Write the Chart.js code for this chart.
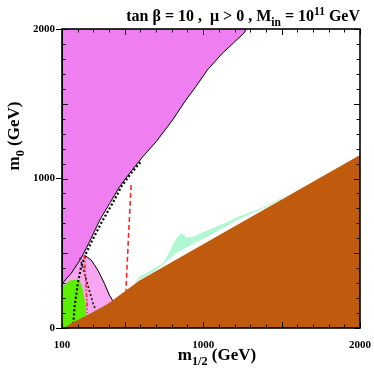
<!DOCTYPE html>
<html>
<head>
<meta charset="utf-8">
<script src="https://cdn.jsdelivr.net/npm/chart.js@4/dist/chart.umd.min.js"></script>
<style>
  html, body { margin: 0; padding: 0; background: #fff; }
  #wrap { width: 374px; height: 382px; }
</style>
</head>
<body>
<div id="wrap"><canvas id="myChart" width="374" height="382"></canvas></div>
<script>
// m_1/2 (x) and m_0 (y) in GeV
const xTickLabels = [100, 1000, 2000];
const yTickLabels = [0, 1000, 2000];

// region boundaries
const violetX = [100, 100, 106, 138, 159, 201, 233, 277, 341, 404, 467, 531, 615, 700, 805, 890, 953, 1027, 1122, 1259, 1275];
const violetY = [2000, 250, 299, 343, 366, 433, 488, 580, 722, 834, 945, 1035, 1146, 1246, 1391, 1525, 1614, 1726, 1837, 1971, 2000];

const pinkX = [100, 100, 233, 243, 286, 328, 370, 402, 430, 430];
const pinkY = [0, 400, 488, 488, 455, 388, 299, 221, 170, 0];

const greenX = [100, 100, 117, 150, 201, 222, 233, 245, 254, 258, 262];
const greenY = [0, 270, 290, 318, 325, 299, 254, 190, 120, 50, 0];

const brownX = [117, 159, 222, 286, 391, 594, 2000, 2000];
const brownY = [0, 31, 65, 100, 160, 318, 1157, 0];

const mintX = [560, 594, 680, 740, 780, 812, 835, 858, 880, 890, 931, 1037, 1164, 1227, 1396, 1491, 1545,
               1491, 1396, 1227, 1037, 931, 826, 741, 680, 594, 560];
const mintY = [295, 343, 395, 430, 500, 568, 608, 628, 625, 605, 608, 658, 714, 745, 812, 865, 890,
               858, 805, 728, 615, 560, 500, 420, 375, 322, 295];

// contours
const edgeX = [243, 286, 328, 370, 402, 430];
const edgeY = [488, 455, 388, 299, 221, 170];

const dot1X = [170, 180, 201, 222, 254, 290, 355, 420, 478, 541, 600];
const dot1Y = [0, 143, 299, 410, 500, 580, 712, 830, 945, 1035, 1110];

const dot2X = [215, 240, 267, 298, 315];
const dot2Y = [470, 380, 276, 165, 120];

const redDashDotX = [243, 252, 262];
const redDashDotY = [488, 300, 100];

const redDashX = [541, 528, 515, 508];
const redDashY = [957, 700, 420, 250];

const pts = (xs, ys) => xs.map((x, i) => ({x: x, y: ys[i]}));
const SERIF = '"Liberation Serif", "DejaVu Serif", serif';

const area = (xs, ys, color, order, border) => ({
  data: pts(xs, ys),
  showLine: true,
  fill: 'shape',
  backgroundColor: color,
  borderColor: border || 'rgba(0,0,0,0)',
  borderWidth: border ? 1 : 0,
  pointRadius: 0,
  tension: 0,
  order: order,
});

const curve = (xs, ys, color, width, dash, order) => ({
  data: pts(xs, ys),
  showLine: true,
  fill: false,
  borderColor: color,
  borderWidth: width,
  borderDash: dash,
  pointRadius: 0,
  tension: 0,
  order: order,
});

// draws the frame and inward ticks of every side
const frameTicks = {
  id: 'frameTicks',
  afterDatasetsDraw(chart) {
    const {ctx, chartArea: a, scales: {x, y}} = chart;
    ctx.save();
    ctx.strokeStyle = '#000';
    ctx.lineWidth = 1;
    for (let v = 100; v <= 2000; v += 100) {
      const px = Math.round(x.getPixelForValue(v)) + 0.5;
      const len = v % 500 === 0 ? 6 : 3.5;
      ctx.beginPath();
      ctx.moveTo(px, a.bottom); ctx.lineTo(px, a.bottom - len);
      ctx.moveTo(px, a.top); ctx.lineTo(px, a.top + len);
      ctx.stroke();
    }
    for (let v = 0; v <= 2000; v += 100) {
      const py = Math.round(y.getPixelForValue(v)) + 0.5;
      const len = v % 500 === 0 ? 6 : 3.5;
      ctx.beginPath();
      ctx.moveTo(a.left, py); ctx.lineTo(a.left + len, py);
      ctx.moveTo(a.right, py); ctx.lineTo(a.right - len, py);
      ctx.stroke();
    }
    ctx.lineWidth = 1.6;
    ctx.strokeRect(a.left, a.top, a.right - a.left, a.bottom - a.top);
    ctx.restore();
  }
};

// text with sub/superscripts
function richWidth(ctx, parts, size) {
  let w = 0;
  for (const p of parts) {
    ctx.font = 'bold ' + (p.s ? size * 0.72 : size) + 'px ' + SERIF;
    w += ctx.measureText(p.t).width;
  }
  return w;
}
function richText(ctx, parts, x0, y0, size) {
  let x = x0;
  for (const p of parts) {
    const fs = p.s ? size * 0.72 : size;
    ctx.font = 'bold ' + fs + 'px ' + SERIF;
    const dy = p.s === 'sub' ? size * 0.3 : p.s === 'sup' ? -size * 0.38 : 0;
    ctx.fillText(p.t, x, y0 + dy);
    x += ctx.measureText(p.t).width;
  }
}

const labels = {
  id: 'labels',
  afterDraw(chart) {
    const {ctx, chartArea: a} = chart;
    ctx.save();
    ctx.fillStyle = '#000';
    ctx.textBaseline = 'alphabetic';
    ctx.textAlign = 'left';

    const title = [{t: 'tan \u03b2 = 10 ,  \u03bc > 0 , M'}, {t: 'in', s: 'sub'}, {t: ' = 10'}, {t: '11', s: 'sup'}, {t: ' GeV'}];
    const tw = richWidth(ctx, title, 16);
    richText(ctx, title, a.right - tw, 21, 16);

    const xt = [{t: 'm'}, {t: '1/2', s: 'sub'}, {t: ' (GeV)'}];
    const xw = richWidth(ctx, xt, 17);
    richText(ctx, xt, 217 - xw / 2, 360, 17);

    const yt = [{t: 'm'}, {t: '0', s: 'sub'}, {t: ' (GeV)'}];
    const yw = richWidth(ctx, yt, 17);
    ctx.translate(19, 136);
    ctx.rotate(-Math.PI / 2);
    richText(ctx, yt, -yw / 2, 0, 17);
    ctx.restore();
  }
};

new Chart(document.getElementById('myChart'), {
  type: 'scatter',
  data: {
    datasets: [
      area(brownX, brownY, '#c05a0c', 1),
      curve(redDashX, redDashY, '#ff2626', 1.6, [5, 3], 2),
      curve(redDashDotX, redDashDotY, '#ff2626', 1.6, [4, 2, 1.5, 2], 3),
      curve(dot1X, dot1Y, '#000', 2.2, [2, 2.2], 4),
      curve(dot2X, dot2Y, '#222', 1.8, [2, 2.2], 5),
      curve(edgeX, edgeY, '#000', 1, [], 6),
      area(greenX, greenY, '#5cf000', 7),
      area(violetX, violetY, '#ef7ff0', 8, '#000'),
      area(pinkX, pinkY, '#f7a6f2', 9),
      area(mintX, mintY, '#b0f7d4', 10),
    ]
  },
  options: {
    responsive: false,
    animation: false,
    devicePixelRatio: 1,
    layout: {padding: {top: 29, right: 2, left: 0, bottom: 0}},
    plugins: {legend: {display: false}, tooltip: {enabled: false}, title: {display: false}},
    scales: {
      x: {
        type: 'linear', min: 100, max: 2000,
        afterBuildTicks: s => { s.ticks = xTickLabels.map(v => ({value: v})); },
        afterFit: s => { s.height = 54; },
        grid: {display: false},
        border: {display: false},
        ticks: {color: '#000', padding: 3, maxRotation: 0, font: {family: SERIF, weight: 'bold', size: 11}, callback: v => String(v)},
      },
      y: {
        type: 'linear', min: 0, max: 2000,
        afterBuildTicks: s => { s.ticks = yTickLabels.map(v => ({value: v})); },
        afterFit: s => { s.width = 62; },
        grid: {drawOnChartArea: false, tickLength: 6, color: '#000', lineWidth: 1},
        border: {display: false},
        ticks: {color: '#000', padding: 1, font: {family: SERIF, weight: 'bold', size: 11}, callback: v => String(v)},
      },
    },
  },
  plugins: [frameTicks, labels],
});
</script>
</body>
</html>
